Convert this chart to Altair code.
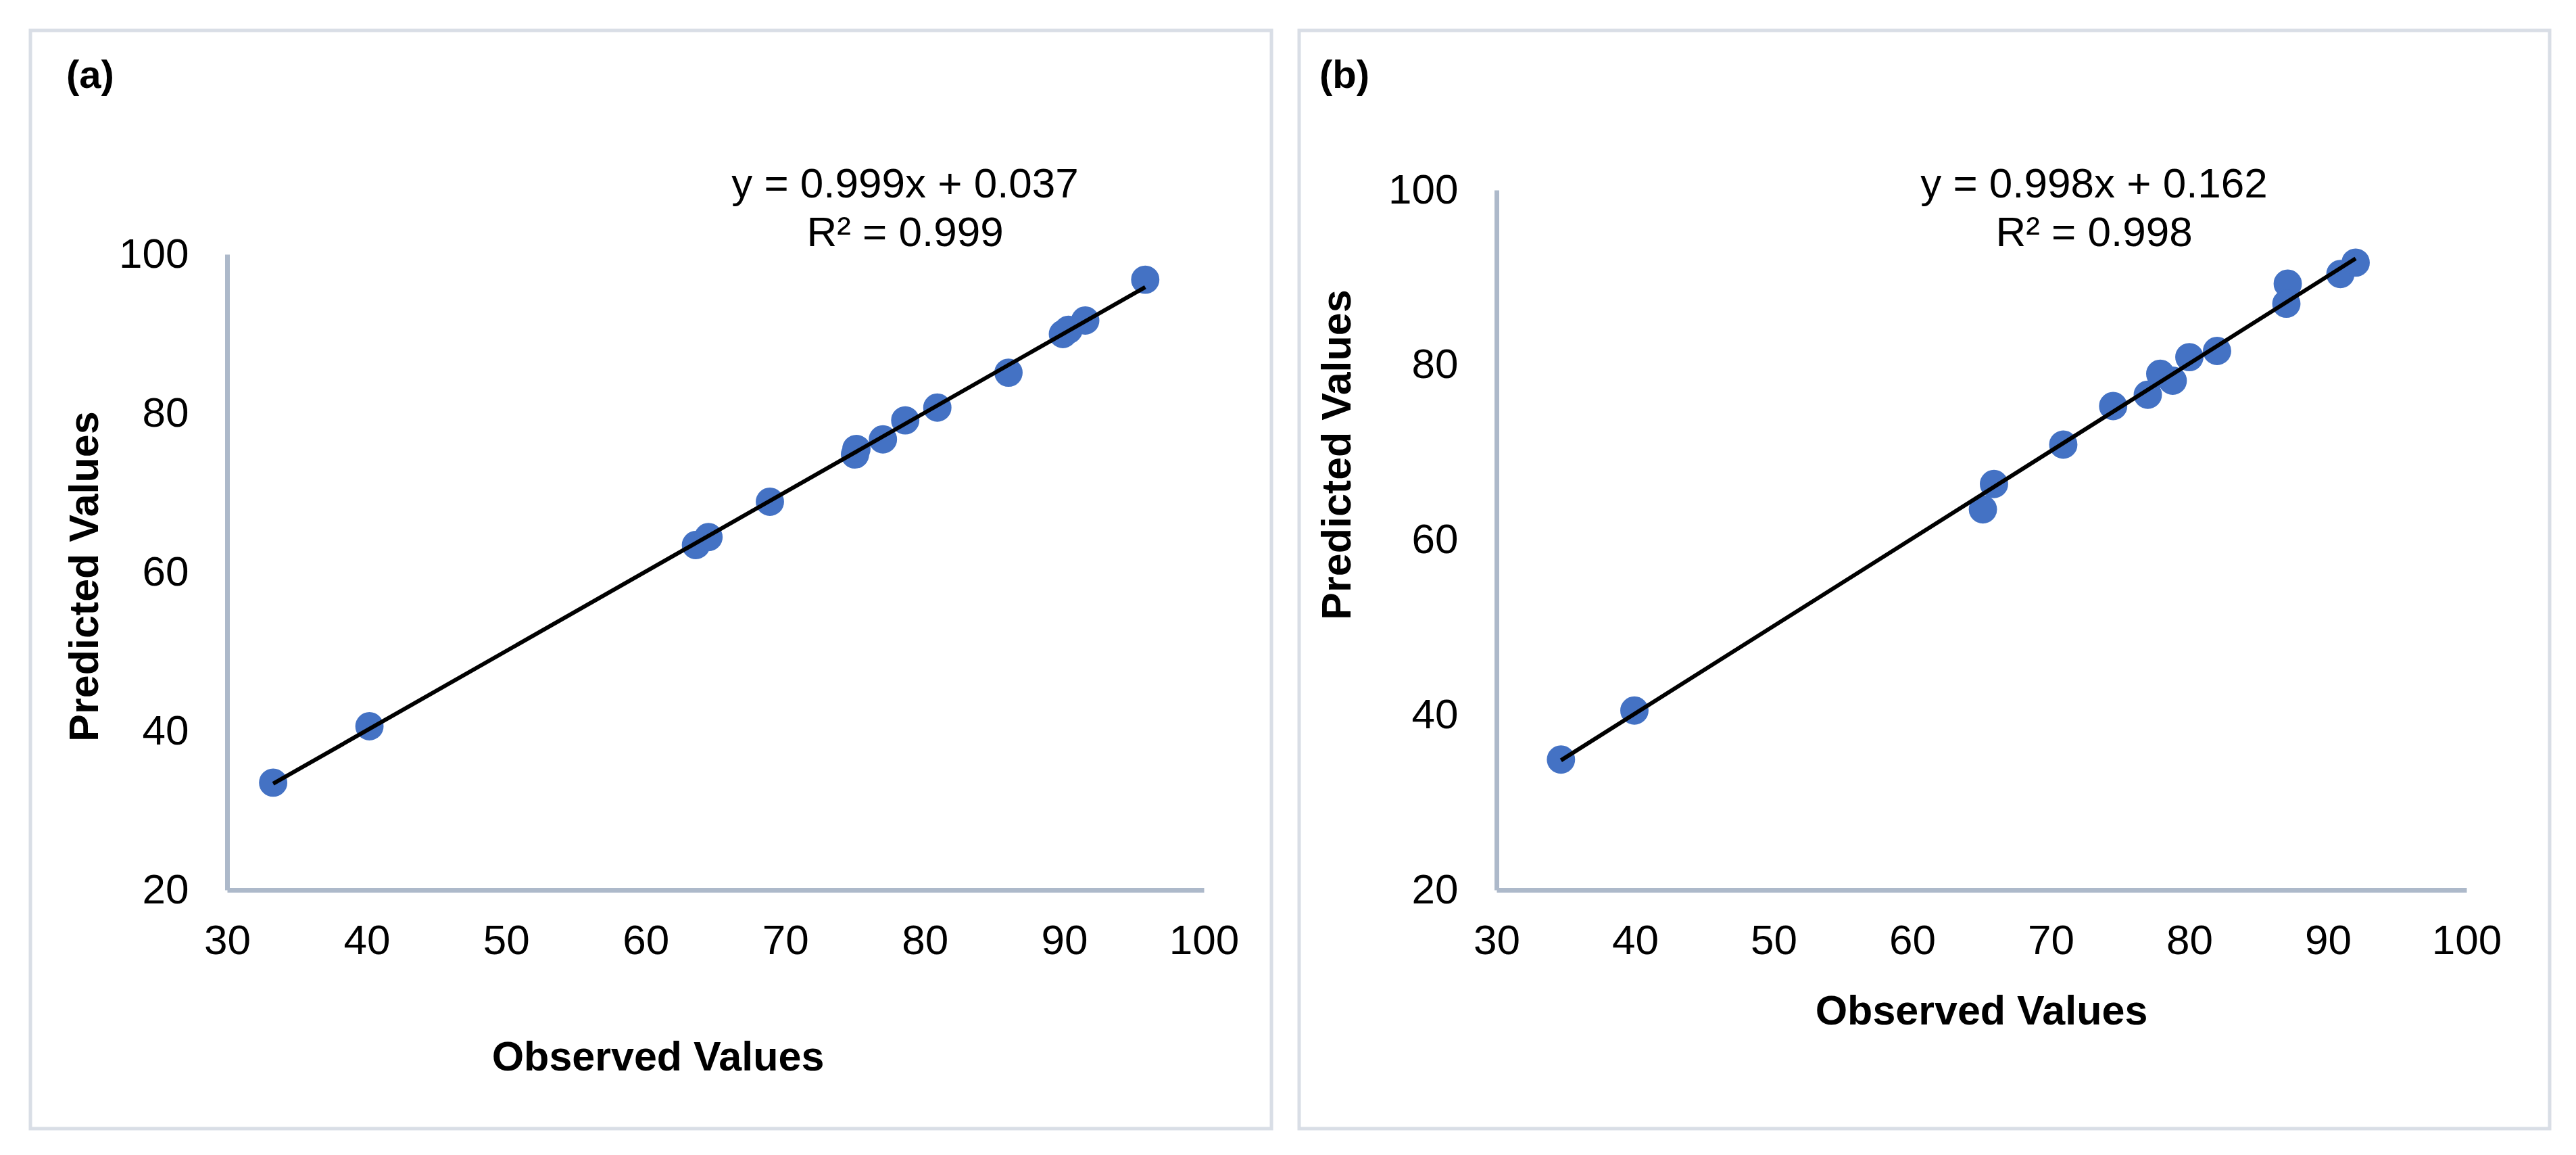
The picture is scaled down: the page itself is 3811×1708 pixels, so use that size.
import altair as alt
import pandas as pd

# ---- data ----
obs_a = [33.3, 40.2, 63.6, 64.5, 68.9, 75.0, 75.1, 77.0, 78.6, 80.9, 86.0, 89.9, 90.3, 91.5, 95.8]
pred_a = [33.5, 40.6, 63.4, 64.4, 68.85, 74.8, 75.5, 76.7, 79.1, 80.7, 85.1, 89.96, 90.5, 91.66, 96.8]

obs_b = [34.65, 39.95, 65.1, 65.9, 70.9, 74.5, 77.0, 77.9, 78.8, 80.0, 82.0, 87.1, 87.0, 90.9, 92.0]
pred_b = [34.9, 40.5, 63.5, 66.4, 70.9, 75.3, 76.6, 79.0, 78.2, 80.9, 81.6, 89.3, 87.0, 90.4, 91.7]

x_ticks = [30, 40, 50, 60, 70, 80, 90, 100]
y_ticks = [20, 40, 60, 80, 100]
x_domain = [30, 100]
y_domain = [20, 100]

eq_a = ["y = 0.999x + 0.037", "R² = 0.999"]
eq_b = ["y = 0.998x + 0.162", "R² = 0.998"]
panel_labels = ["(a)", "(b)"]

FONT = "Liberation Sans"
MARKER = "#4472C4"
AXIS_COL = "#ADB9CA"
BORDER_COL = "#D9DEE6"

H = 1035  # common plot height (both x axes sit on the same line)


def panel(obs, pred, eq, label, W, ytop, border, xt, yt, eqpos, labpos):
    df = pd.DataFrame({"Observed": obs, "Predicted": pred})
    one = pd.DataFrame({"k": [0]})

    xenc = alt.X(
        "Observed:Q",
        scale=alt.Scale(domain=x_domain, nice=False, zero=False),
        axis=alt.Axis(
            values=x_ticks, title="Observed Values", labelPadding=45,
            titleX=xt[0], titleY=xt[1], titleBaseline="alphabetic", titleAlign="center",
        ),
    )
    yenc = alt.Y(
        "Predicted:Q",
        scale=alt.Scale(domain=y_domain, range=[H, ytop], nice=False, zero=False),
        axis=alt.Axis(
            values=y_ticks, title="Predicted Values", labelPadding=57,
            titleX=yt[0], titleY=yt[1], titleBaseline="alphabetic", titleAlign="center",
            titleAngle=270,
        ),
    )

    frame = alt.Chart(one).mark_rect(
        fillOpacity=0, stroke=BORDER_COL, strokeWidth=5
    ).encode(
        x=alt.value(border[0]), x2=alt.value(border[1]),
        y=alt.value(border[2]), y2=alt.value(border[3]),
    )

    pts = alt.Chart(df).mark_circle(
        size=1590, color=MARKER, opacity=1, stroke=MARKER, strokeWidth=2
    ).encode(x=xenc, y=yenc)

    trend = alt.Chart(df).transform_regression(
        "Observed", "Predicted"
    ).mark_line(color="black", strokeWidth=6).encode(x="Observed:Q", y="Predicted:Q")

    eqtext = alt.Chart(one).mark_text(
        text=eq, font=FONT, fontSize=62, align="center", baseline="alphabetic",
        lineHeight=72, color="black",
    ).encode(x=alt.value(eqpos[0]), y=alt.value(eqpos[1]))

    lab = alt.Chart(one).mark_text(
        text=label, font=FONT, fontSize=58, fontWeight="bold", align="left",
        baseline="alphabetic", color="black",
    ).encode(x=alt.value(labpos[0]), y=alt.value(labpos[1]))

    return alt.layer(frame, pts, trend, eqtext, lab).properties(width=W, height=H)


# plot origins: (a) x=335, (b) x=2217; common top at page y=280
pa = panel(obs_a, pred_a, eq_a, panel_labels[0], 1445, 95,
           (-291, 1545, -236, 1388), (637, 266), (-192, 571), (1003, 11), (-238, -151))
pb = panel(obs_b, pred_b, eq_b, panel_labels[1], 1435, 0,
           (-292, 1558, -236, 1388), (717, 198), (-217, 391), (884, 11), (-262, -151))

chart = alt.hconcat(pa, pb, spacing=35).properties(
    padding={"left": 34, "top": 34, "right": 0, "bottom": 0}
).configure_view(strokeWidth=0).configure_axis(
    labelFont=FONT, labelFontSize=62, labelColor="black",
    titleFont=FONT, titleFontSize=61, titleFontWeight="bold", titleColor="black",
    domainColor=AXIS_COL, domainWidth=7, ticks=False, grid=False,
    labelFlush=False, labelOverlap=False,
)

chart.save("out.html", embed_options={"renderer": "svg", "actions": False})
